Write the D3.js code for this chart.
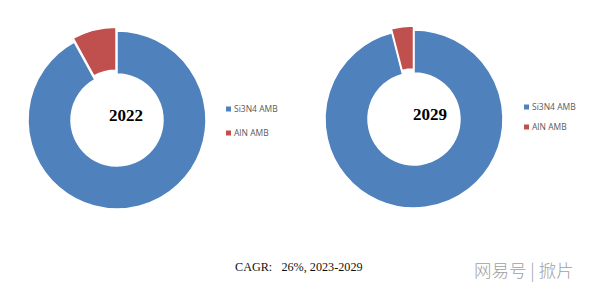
<!DOCTYPE html>
<html><head><meta charset="utf-8">
<script src="https://cdn.jsdelivr.net/npm/d3@7/dist/d3.min.js"></script>
<style>body{margin:0;background:#fff;} svg{display:block;}</style>
</head><body>
<script>
const categories = ["Si3N4 AMB", "AlN AMB"];
const years = ["2022", "2029"];
const values2022 = [92, 8];
const values2029 = [96, 4];
const colors = ["#4F81BD", "#C0504D"];
const footnote = "CAGR:   26%, 2023-2029";
const watermark = "网易号 | 掀片";

const W = 599, H = 295;
const svg = d3.select("body").append("svg").attr("width", W).attr("height", H);

const charts = [
  {year: years[0], values: values2022, cx: 117, cy: 120, lx: 226, ly: [109, 133], tx: 126},
  {year: years[1], values: values2029, cx: 414, cy: 119, lx: 524, ly: [107, 127], tx: 430}
];
const rOuter = 89, rInner = 46, explode = 4;
const pie = d3.pie().sort(null).value(d => d);
const arc = d3.arc().innerRadius(rInner).outerRadius(rOuter);
const color = d3.scaleOrdinal().domain(categories).range(colors);

charts.forEach(c => {
  const g = svg.append("g").attr("transform", `translate(${c.cx},${c.cy})`);
  const arcs = pie(c.values);
  g.selectAll("path").data(arcs).join("path")
    .attr("d", arc)
    .attr("fill", (d, i) => color(categories[i]))
    .attr("stroke", "#fff").attr("stroke-width", 1.5)
    .attr("transform", (d, i) => {
      if (i !== 1) return null;
      const a = (d.startAngle + d.endAngle) / 2;
      return `translate(${Math.sin(a) * explode},${-Math.cos(a) * explode})`;
    });
  svg.append("text").attr("x", c.tx).attr("y", c.cy + 1)
    .attr("text-anchor", "middle")
    .attr("font-family", "'Liberation Serif','DejaVu Serif',serif")
    .attr("font-weight", "bold").attr("font-size", 17).attr("fill", "#000")
    .text(c.year);
  const lg = svg.append("g");
  categories.forEach((cat, i) => {
    lg.append("rect").attr("x", c.lx).attr("y", c.ly[i] - 2.5).attr("width", 5).attr("height", 5)
      .attr("fill", color(cat));
    lg.append("text").attr("x", c.lx + 8).attr("y", c.ly[i] + 3)
      .attr("font-family", "'Open Sans','DejaVu Sans',sans-serif").attr("font-size", 8.5)
      .attr("fill", "#595959").text(cat);
  });
});

svg.append("text").attr("x", 235).attr("y", 271)
  .attr("font-family", "'Liberation Serif','DejaVu Serif',serif")
  .attr("font-size", 12.2).attr("fill", "#111")
  .style("white-space", "pre").text(footnote);

svg.append("text").attr("x", 474).attr("y", 277)
  .attr("font-family", "'Noto Sans CJK SC',sans-serif").attr("font-weight", 300)
  .attr("font-size", 17.5).attr("fill", "#a0a0a0").style("white-space", "pre").text(watermark);
</script>
</body></html>
